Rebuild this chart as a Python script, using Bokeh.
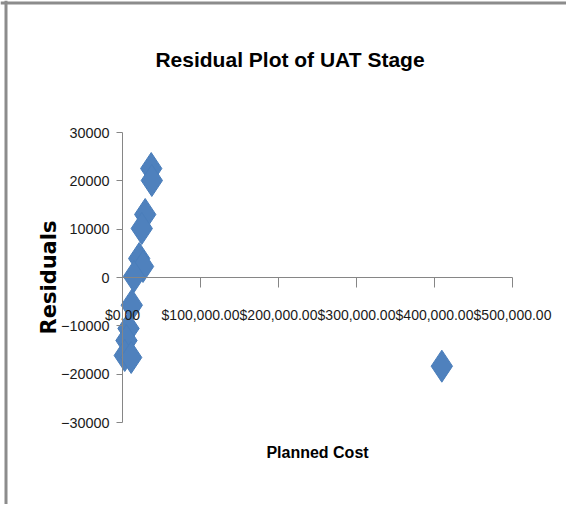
from bokeh.plotting import figure
from bokeh.models import Range1d, NumeralTickFormatter, FixedTicker, Label, Span
from bokeh.embed import file_html
from bokeh.resources import INLINE

planned_cost = [36800, 37600, 29100, 24700, 21400, 26300, 14700, 11900, 7700, 5100, 2900, 11100, 409400]
residuals = [22550, 20070, 13040, 10140, 3930, 2280, 210, -5730, -10550, -13040, -16140, -16550, -18350]
x_ticks = [0, 100000, 200000, 300000, 400000, 500000]
y_ticks = [-30000, -20000, -10000, 0, 10000, 20000, 30000]
title_text = "Residual Plot of UAT Stage"
x_label = "Planned Cost"
y_label = "Residuals"

# pixel geometry of the chart in the screenshot
ORIGIN = 2                     # where the canvas actually lands in the screenshot
W, H = 566, 504
X0_PX, X1_PX = 124, 514        # x = 0 and x = 500000
Y_TOP_PX, Y_BOT_PX = 134, 424  # y = 30000 and y = -30000


def px_to_x(px):
    return (px - X0_PX) / (X1_PX - X0_PX) * 500000


def py_to_y(py):
    return 30000 - (py - Y_TOP_PX) / (Y_BOT_PX - Y_TOP_PX) * 60000


FONT = "Liberation Sans"

p = figure(width=W, height=H, output_backend="svg", toolbar_location=None,
           x_range=Range1d(px_to_x(ORIGIN), px_to_x(ORIGIN + W)),
           y_range=Range1d(py_to_y(ORIGIN + H), py_to_y(ORIGIN)),
           min_border=0, min_border_left=0, min_border_right=0,
           min_border_top=0, min_border_bottom=0)
p.grid.visible = False
p.outline_line_color = None
p.background_fill_color = "white"
p.border_fill_color = "white"

# cropped chart-area border (top and left)
p.add_layout(Span(location=py_to_y(4.5), dimension="width", line_color="#8c8c8c", line_width=3))
p.add_layout(Span(location=px_to_x(7.5), dimension="height", line_color="#8c8c8c", line_width=3))

p.scatter(planned_cost, residuals, marker="diamond", size=32,
          fill_color="#4F81BD", line_color="#4A7EBB", line_width=1)

xa = p.xaxis[0]
xa.fixed_location = 0
xa.bounds = (x_ticks[0], x_ticks[-1])
xa.ticker = FixedTicker(ticks=x_ticks)
xa.formatter = NumeralTickFormatter(format="$0,0.00")
xa.minor_tick_line_color = None
xa.major_tick_in = 0
xa.major_tick_out = 10
xa.major_label_standoff = 19
xa.axis_line_color = "#868686"
xa.major_tick_line_color = "#868686"
xa.major_label_text_font = FONT
xa.major_label_text_font_size = "14px"
xa.major_label_text_color = "#1a1a1a"

ya = p.yaxis[0]
ya.fixed_location = 0
ya.bounds = (y_ticks[0], y_ticks[-1])
ya.ticker = FixedTicker(ticks=y_ticks)
ya.minor_tick_line_color = None
ya.major_tick_in = 0
ya.major_tick_out = 6
ya.major_label_standoff = 7
ya.axis_line_color = "#868686"
ya.major_tick_line_color = "#868686"
ya.major_label_text_font = FONT
ya.major_label_text_font_size = "14.4px"
ya.major_label_text_color = "#1a1a1a"
ya.axis_label = y_label
ya.axis_label_text_font = "DejaVu Sans"
ya.axis_label_text_font_style = "bold"
ya.axis_label_text_font_size = "21px"
ya.axis_label_standoff = -3
ya.axis_label_text_color = "black"

p.add_layout(Label(x=px_to_x(291.5), y=py_to_y(61), text=title_text, text_align="center",
                   text_baseline="alphabetic", text_font=FONT, text_font_style="bold",
                   text_font_size="21px", text_color="black"))
p.add_layout(Label(x=px_to_x(319), y=py_to_y(454), text=x_label, text_align="center",
                   text_baseline="alphabetic", text_font=FONT, text_font_style="bold",
                   text_font_size="16px", text_color="black"))

open("out.html", "w").write(file_html(p, INLINE))
